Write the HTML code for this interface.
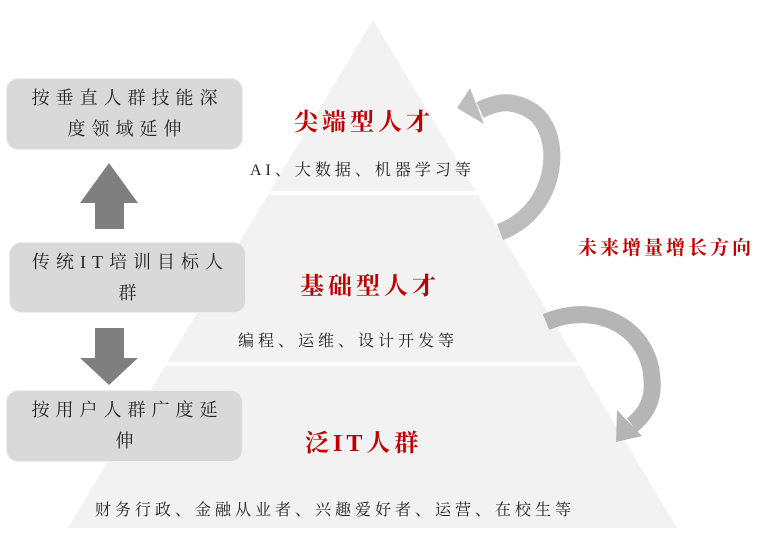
<!DOCTYPE html>
<html><head><meta charset="utf-8"><style>
body{margin:0;width:772px;height:537px;background:#fff;position:relative;overflow:hidden;font-family:"Liberation Serif","Noto Serif CJK SC",serif;}
.box{position:absolute;background:#d9d9d9;border:1px solid #eee;border-radius:12px;box-sizing:border-box;display:flex;align-items:center;justify-content:center;text-align:center;font-size:18px;color:#222;line-height:31px;letter-spacing:6px;padding:0 0 0 6px;white-space:nowrap;}
.t{position:absolute;white-space:nowrap;}
.red{color:#c00000;font-weight:bold;font-size:24px;letter-spacing:4px;}
.sub{font-size:16px;color:#222;}
</style></head><body>
<svg width="772" height="537" style="position:absolute;left:0;top:0">
<polygon points="373,20 677,528 68,528" fill="#f2f2f2"/>
<line x1="200" y1="193" x2="520" y2="193" stroke="#fff" stroke-width="4"/>
<line x1="120" y1="364" x2="620" y2="364" stroke="#fff" stroke-width="4"/>
<polygon points="80,203 109,163 138,203 124,203 124,229 95,229 95,203" fill="#7f7f7f"/>
<polygon points="95,328 124,328 124,358 138,358 109,385 80,358 95,358" fill="#7f7f7f"/>
<path d="M500,232 C560,210 565,130 530,110 C510,98 495,103 480,110" fill="none" stroke="#bdbdbd" stroke-width="17"/>
<polygon points="470,88 457,108 484,124" fill="#bdbdbd"/>
<path d="M546,322 C600,300 650,330 652,380 C654,400 645,415 632,425" fill="none" stroke="#b5b5b5" stroke-width="17"/>
<polygon points="617,410 616,442 642,436" fill="#b5b5b5"/>
</svg>
<div class="box" style="left:6px;top:78px;width:237px;height:72px">按垂直人群技能深<br>度领域延伸</div>
<div class="box" style="left:9px;top:242px;width:237px;height:71px">传统IT培训目标人<br>群</div>
<div class="box" style="left:6px;top:390px;width:237px;height:72px">按用户人群广度延<br>伸</div>
<div class="t red" style="left:294px;top:102px">尖端型人才</div>
<div class="t sub" style="left:250px;top:157px;letter-spacing:4px">AI、大数据、机器学习等</div>
<div class="t red" style="left:300px;top:266px">基础型人才</div>
<div class="t sub" style="left:238px;top:328px;letter-spacing:4px">编程、运维、设计开发等</div>
<div class="t red" style="left:305px;top:423px">泛IT人群</div>
<div class="t sub" style="left:95px;top:497px;letter-spacing:4px">财务行政、金融从业者、兴趣爱好者、运营、在校生等</div>
<div class="t" style="left:578px;top:233px;color:#c00000;font-weight:bold;font-size:19px;letter-spacing:3px">未来增量增长方向</div>
</body></html>
